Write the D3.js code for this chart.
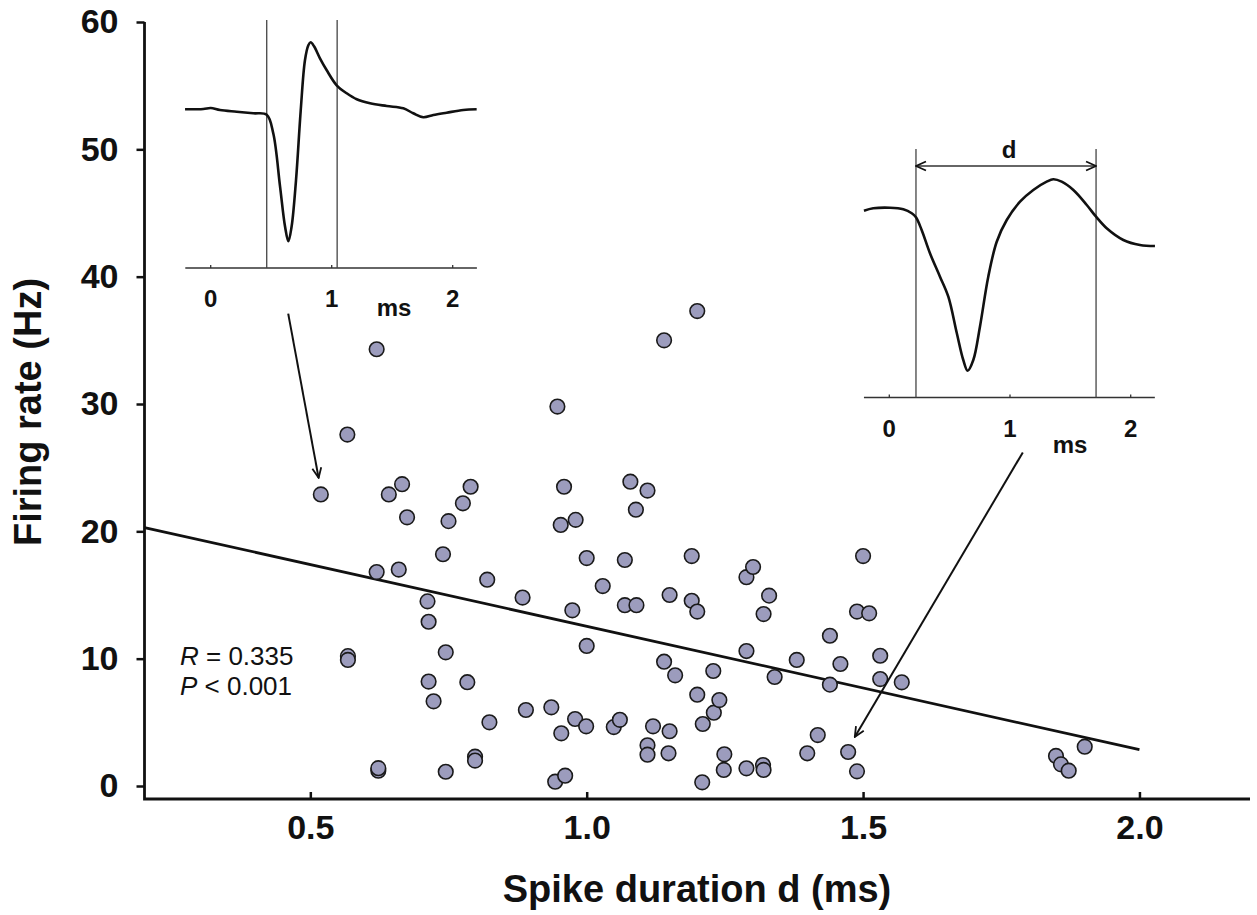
<!DOCTYPE html>
<html>
<head>
<meta charset="utf-8">
<script src="https://cdn.jsdelivr.net/npm/d3@7"></script>
<style>
  body { margin: 0; background: #fff; }
  text { font-family: "Liberation Sans", Arial, sans-serif; }
</style>
</head>
<body>
<div id="chart"></div>
<script>
// scatter data: spike duration (ms) vs firing rate (Hz)
var durations = [0.519, 0.567, 0.568, 0.568, 0.620, 0.620, 0.623, 0.623, 0.642, 0.660,
    0.666, 0.675, 0.712, 0.714, 0.714, 0.723, 0.740, 0.745, 0.745, 0.750,
    0.776, 0.784, 0.790, 0.798, 0.798, 0.820, 0.824, 0.884, 0.890, 0.936,
    0.943, 0.947, 0.953, 0.954, 0.959, 0.961, 0.974, 0.979, 0.980, 0.999,
    1.000, 1.000, 1.029, 1.049, 1.060, 1.069, 1.069, 1.079, 1.089, 1.090,
    1.110, 1.110, 1.110, 1.120, 1.140, 1.140, 1.148, 1.150, 1.150, 1.160,
    1.190, 1.190, 1.200, 1.200, 1.200, 1.209, 1.210, 1.229, 1.230, 1.240,
    1.249, 1.248, 1.289, 1.289, 1.289, 1.301, 1.319, 1.320, 1.320, 1.330,
    1.340, 1.380, 1.399, 1.418, 1.440, 1.440, 1.459, 1.473, 1.489, 1.489,
    1.500, 1.511, 1.531, 1.531, 1.570, 1.849, 1.858, 1.872, 1.901];
var rates = [22.9, 27.6, 10.2, 9.9, 34.3, 16.8, 1.2, 1.4, 22.9, 17.0,
    23.7, 21.1, 14.5, 12.9, 8.2, 6.65, 18.2, 10.5, 1.12, 20.8,
    22.2, 8.15, 23.5, 2.3, 2.0, 16.2, 5.0, 14.8, 5.97, 6.18,
    0.34, 29.8, 20.5, 4.14, 23.5, 0.81, 13.8, 5.26, 20.9, 4.69,
    17.9, 11.0, 15.7, 4.63, 5.2, 17.75, 14.2, 23.9, 21.7, 14.2,
    23.2, 3.2, 2.46, 4.69, 35.0, 9.76, 2.57, 15.0, 4.3, 8.69,
    18.06, 14.55, 37.3, 13.7, 7.17, 0.29, 4.87, 9.03, 5.76, 6.75,
    2.49, 1.26, 16.4, 10.6, 1.39, 17.2, 1.65, 1.26, 13.5, 14.95,
    8.56, 9.9, 2.57, 4.0, 11.8, 7.96, 9.58, 2.67, 13.7, 1.15,
    18.06, 13.56, 10.23, 8.4, 8.14, 2.36, 1.7, 1.2, 3.09];

// regression line end points
var fitX = [0.2, 2.0];
var fitY = [20.3, 2.85];

var xTicks = [0.5, 1.0, 1.5, 2.0];
var yTicks = [0, 10, 20, 30, 40, 50, 60];

// inset waveforms (time ms, amplitude a.u.)
var waveATime = [-0.212, -0.061, 0.0, 0.077, 0.215, 0.352, 0.463, 0.517, 0.573, 0.614,
    0.642, 0.669, 0.705, 0.744, 0.779, 0.807, 0.826, 0.854, 0.903, 0.959,
    1.041, 1.124, 1.207, 1.317, 1.455, 1.592, 1.674, 1.757, 1.840, 1.950, 2.088, 2.198];
var waveAAmp = [0, 0.3, 1.3, -0.7, -2.4, -4, -5.4, -24, -77, -117,
    -132, -117, -71, -1, 49, 64, 67, 63, 51, 39,
    24, 16, 10, 6, 3.3, 1, -4, -8, -5.7, -3.4, -0.7, 0];
var waveAMarks = [0.463, 1.045];

var waveBTime = [-0.21, -0.133, 0.006, 0.116, 0.186, 0.221, 0.268, 0.337, 0.42, 0.489,
    0.559, 0.613, 0.649, 0.696, 0.751, 0.82, 0.89, 0.973, 1.083, 1.193,
    1.304, 1.359, 1.428, 1.525, 1.636, 1.713, 1.801, 1.939, 2.077, 2.201];
var waveBAmp = [-0.7, 1.7, 2.3, 0.7, -3.3, -7.3, -20, -43.3, -66.7, -86.7,
    -123, -150, -160.7, -150, -116.7, -66.7, -31.7, -10, 8.3, 20,
    28.3, 30.7, 28.3, 20, 5, -6.7, -18.3, -30, -35, -36];
var waveBMarks = [0.221, 1.713];
var insetTicks = [0, 1, 2];

// arrows from insets to example points (data coords: duration, rate)
var arrows = [
    { from: [0.46, 37.1], to: [0.515, 24.2] },
    { from: [1.789, 26.2], to: [1.485, 3.85] }
];

var width = 1257, height = 915;

var svg = d3.select("#chart").append("svg")
    .attr("width", width)
    .attr("height", height);

svg.append("rect").attr("width", width).attr("height", height).attr("fill", "#fff");

var x = d3.scaleLinear().domain([0.2, 2.2]).range([144.5, 1250]);
var y = d3.scaleLinear().domain([0, 60]).range([786, 22]);
var axisY = 799;

// axes
var gx = svg.append("g")
    .attr("transform", "translate(0," + axisY + ")")
    .call(d3.axisBottom(x).tickValues(xTicks).tickFormat(d3.format(".1f"))
        .tickSize(-7).tickSizeOuter(0).tickPadding(16));
gx.select(".domain").remove();

var gy = svg.append("g")
    .attr("transform", "translate(144.5,0)")
    .call(d3.axisLeft(y).tickValues(yTicks).tickSize(8).tickPadding(18));
gy.select(".domain").remove();

[gx, gy].forEach(function (g) {
    g.selectAll(".tick line").attr("stroke", "#111").attr("stroke-width", 2.5);
    g.selectAll(".tick text")
        .attr("font-size", "34px")
        .attr("font-weight", "bold")
        .attr("font-family", "Liberation Sans, Arial, sans-serif")
        .attr("fill", "#111");
});

svg.append("path")
    .attr("d", "M144.5,22V" + axisY + "H1250")
    .attr("fill", "none")
    .attr("stroke", "#111")
    .attr("stroke-width", 2.8);

// axis titles
svg.append("text")
    .attr("transform", "translate(41,412) rotate(-90)")
    .attr("text-anchor", "middle")
    .attr("font-size", "38px")
    .attr("font-weight", "bold")
    .attr("fill", "#111")
    .text("Firing rate (Hz)");

svg.append("text")
    .attr("x", 697)
    .attr("y", 902)
    .attr("text-anchor", "middle")
    .attr("font-size", "38px")
    .attr("font-weight", "bold")
    .attr("fill", "#111")
    .text("Spike duration d (ms)");

// regression line
svg.append("line")
    .attr("x1", x(fitX[0])).attr("y1", y(fitY[0]))
    .attr("x2", x(fitX[1])).attr("y2", y(fitY[1]))
    .attr("stroke", "#111")
    .attr("stroke-width", 2.8);

// points
svg.append("g").selectAll("circle")
    .data(d3.range(durations.length))
    .enter().append("circle")
    .attr("cx", function (i) { return x(durations[i]); })
    .attr("cy", function (i) { return y(rates[i]); })
    .attr("r", 7.3)
    .attr("fill", "#9c9cbd")
    .attr("stroke", "#1a1a1a")
    .attr("stroke-width", 1.6);

// stats
var stats = svg.append("g").attr("font-size", "26px").attr("fill", "#111");
var r1 = stats.append("text").attr("x", 180).attr("y", 665);
r1.append("tspan").attr("font-style", "italic").text("R");
r1.append("tspan").text(" = 0.335");
var r2 = stats.append("text").attr("x", 180).attr("y", 695);
r2.append("tspan").attr("font-style", "italic").text("P");
r2.append("tspan").text(" < 0.001");

// arrowhead
svg.append("defs").append("marker")
    .attr("id", "head")
    .attr("viewBox", "0 0 12 12")
    .attr("refX", 11).attr("refY", 6)
    .attr("markerWidth", 12).attr("markerHeight", 12)
    .attr("markerUnits", "userSpaceOnUse")
    .attr("orient", "auto-start-reverse")
    .append("path")
    .attr("d", "M1,1.5L11,6L1,10.5")
    .attr("fill", "none")
    .attr("stroke", "#111")
    .attr("stroke-width", 1.8);

svg.append("g").selectAll("line")
    .data(arrows)
    .enter().append("line")
    .attr("x1", function (d) { return x(d.from[0]); })
    .attr("y1", function (d) { return y(d.from[1]); })
    .attr("x2", function (d) { return x(d.to[0]); })
    .attr("y2", function (d) { return y(d.to[1]); })
    .attr("stroke", "#111")
    .attr("stroke-width", 2)
    .attr("marker-end", "url(#head)");

// insets
function drawInset(cfg) {
    var g = svg.append("g");
    var ix = d3.scaleLinear().domain([-0.21, 2.2]).range([cfg.x0 - 0.21 * cfg.pxPerMs, cfg.x0 + 2.2 * cfg.pxPerMs]);
    var iy = d3.scaleLinear().domain([-100, 100]).range([cfg.zeroY + 100, cfg.zeroY - 100]);

    // time axis
    g.append("line")
        .attr("x1", ix(-0.21)).attr("x2", ix(2.2))
        .attr("y1", cfg.base).attr("y2", cfg.base)
        .attr("stroke", "#333").attr("stroke-width", 1.6);
    g.selectAll(".itick").data(insetTicks).enter().append("line")
        .attr("x1", function (d) { return ix(d); }).attr("x2", function (d) { return ix(d); })
        .attr("y1", cfg.base).attr("y2", cfg.base - 3)
        .attr("stroke", "#333").attr("stroke-width", 1.3);
    g.selectAll(".ilabel").data(insetTicks).enter().append("text")
        .attr("x", function (d) { return ix(d); })
        .attr("y", cfg.base + 39)
        .attr("text-anchor", "middle")
        .attr("font-size", "24px")
        .attr("font-weight", "bold")
        .attr("fill", "#111")
        .text(function (d) { return d; });
    g.append("text")
        .attr("x", cfg.msX).attr("y", cfg.msY)
        .attr("text-anchor", "middle")
        .attr("font-size", "24px")
        .attr("font-weight", "bold")
        .attr("fill", "#111")
        .text("ms");

    // duration markers
    g.selectAll(".mark").data(cfg.marks).enter().append("line")
        .attr("x1", function (d) { return ix(d); }).attr("x2", function (d) { return ix(d); })
        .attr("y1", cfg.markTop).attr("y2", cfg.base)
        .attr("stroke", "#444").attr("stroke-width", 1.3);

    // waveform
    var line = d3.line()
        .x(function (i) { return ix(cfg.time[i]); })
        .y(function (i) { return iy(cfg.amp[i]); })
        .curve(d3.curveCatmullRom.alpha(0.5));
    g.append("path")
        .attr("d", line(d3.range(cfg.time.length)))
        .attr("fill", "none")
        .attr("stroke", "#111")
        .attr("stroke-width", 2.6);
    return { g: g, ix: ix };
}

drawInset({
    x0: 210.7, pxPerMs: 121, zeroY: 109.3, base: 268,
    marks: waveAMarks, markTop: 20, time: waveATime, amp: waveAAmp,
    msX: 394, msY: 316
});

var insetB = drawInset({
    x0: 889.3, pxPerMs: 120.7, zeroY: 210, base: 397.5,
    marks: waveBMarks, markTop: 149, time: waveBTime, amp: waveBAmp,
    msX: 1070, msY: 453
});

// duration "d" double arrow
insetB.g.append("line")
    .attr("x1", insetB.ix(waveBMarks[0])).attr("x2", insetB.ix(waveBMarks[1]))
    .attr("y1", 166).attr("y2", 166)
    .attr("stroke", "#333").attr("stroke-width", 1.4)
    .attr("marker-start", "url(#head)")
    .attr("marker-end", "url(#head)");
insetB.g.append("text")
    .attr("x", insetB.ix((waveBMarks[0] + waveBMarks[1]) / 2) + 3)
    .attr("y", 158)
    .attr("text-anchor", "middle")
    .attr("font-size", "24px")
    .attr("font-weight", "bold")
    .attr("fill", "#111")
    .text("d");
</script>
</body>
</html>
